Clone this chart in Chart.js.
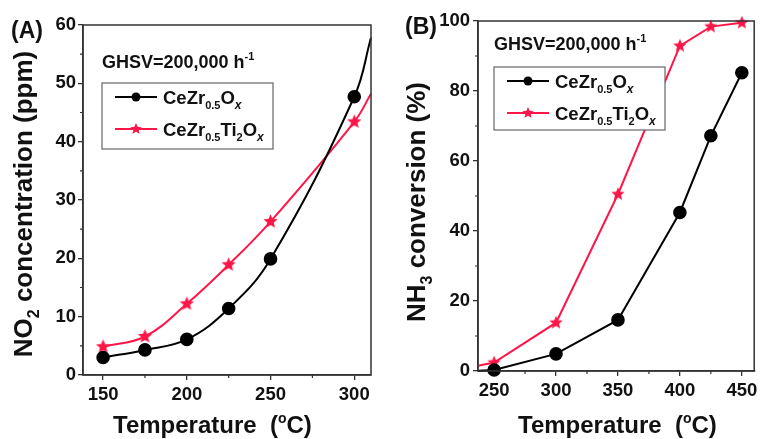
<!DOCTYPE html>
<html>
<head>
<meta charset="utf-8">
<script src="https://cdn.jsdelivr.net/npm/chart.js@4"></script>
<style>
  html, body { margin: 0; padding: 0; background: #fff; }
  #wrap { position: relative; width: 762px; height: 439px; }
  canvas { position: absolute; top: 0; }
</style>
</head>
<body>
<div id="wrap">
  <canvas id="chartA" width="381" height="439" style="left:0"></canvas>
  <canvas id="chartB" width="381" height="439" style="left:381px"></canvas>
</div>
<script>
// Panel A: NO2 concentration vs temperature (last point = where curve leaves the frame)
const tempA = [150, 175, 200, 225, 250, 300, 310];
const no2CeZr = [3.0, 4.3, 6.1, 11.4, 19.9, 47.7, 57.8];
const no2CeZrTi = [4.85, 6.6, 12.2, 18.9, 26.3, 43.4, 48.2];
const xTicksA = [150, 200, 250, 300];
const xMinorA = [175, 225, 275];
const yMinorA = [5, 15, 25, 35, 45, 55];

// Panel B: NH3 conversion vs temperature (first point = where line enters the frame)
const tempB = [237, 250, 300, 350, 400, 425, 450];
const nh3CeZr = [0.1, 0.3, 4.9, 14.6, 45.3, 67.2, 85.2];
const nh3CeZrTi = [1.5, 2.4, 13.8, 50.5, 92.9, 98.4, 99.5];
const xTicksB = [250, 300, 350, 400, 450];
const xMinorB = [275, 325, 375, 425];
const yMinorB = [10, 30, 50, 70, 90];

const RED = 'rgb(255, 22, 72)';
const FONT = '"Liberation Sans", Arial, sans-serif';
const AXIS = '#333';

function makeStar(r, color) {
    const s = Math.ceil(r * 2 + 2);
    const c = document.createElement('canvas');
    c.width = c.height = s;
    const g = c.getContext('2d');
    g.fillStyle = color;
    g.beginPath();
    for (let i = 0; i < 10; i++) {
        const rad = i % 2 ? r * 0.45 : r;
        const a = -Math.PI / 2 + i * Math.PI / 5;
        g.lineTo(s / 2 + rad * Math.cos(a), s / 2 + rad * Math.sin(a));
    }
    g.closePath();
    g.fill();
    return c;
}

// draw text made of parts: [text, kind] kind = '' | 'sub' | 'sup' | 'subi'
function drawRich(ctx, parts, x, y, size, align) {
    const spec = k => {
        if (k === 'sub') return { f: `bold ${Math.round(size * 0.6)}px ${FONT}`, dy: size * 0.28 };
        if (k === 'subi') return { f: `italic bold ${Math.round(size * 0.66)}px ${FONT}`, dy: size * 0.28 };
        if (k === 'sup') return { f: `bold ${Math.round(size * 0.6)}px ${FONT}`, dy: -size * 0.42 };
        return { f: `bold ${size}px ${FONT}`, dy: 0 };
    };
    let total = 0;
    parts.forEach(([t, k]) => { ctx.font = spec(k).f; total += ctx.measureText(t).width; });
    let cx = align === 'center' ? x - total / 2 : x;
    ctx.textAlign = 'left';
    ctx.textBaseline = 'alphabetic';
    parts.forEach(([t, k]) => {
        const sp = spec(k);
        ctx.font = sp.f;
        ctx.fillText(t, cx, y + sp.dy);
        cx += ctx.measureText(t).width;
    });
}

function drawLegend(ctx, box, rows) {
    ctx.fillStyle = '#fff';
    ctx.fillRect(box.x, box.y, box.w, box.h);
    ctx.strokeStyle = '#666';
    ctx.lineWidth = 1.2;
    ctx.strokeRect(box.x, box.y, box.w, box.h);
    rows.forEach(r => {
        ctx.strokeStyle = r.color;
        ctx.lineWidth = 2;
        ctx.beginPath();
        ctx.moveTo(box.x + 13, r.y);
        ctx.lineTo(box.x + 55, r.y);
        ctx.stroke();
        if (r.star) {
            ctx.drawImage(r.star, box.x + 34 - r.star.width / 2, r.y - r.star.height / 2);
        } else {
            ctx.fillStyle = r.color;
            ctx.beginPath();
            ctx.arc(box.x + 34, r.y, 4.5, 0, Math.PI * 2);
            ctx.fill();
        }
        ctx.fillStyle = '#111';
        drawRich(ctx, r.text, box.x + 61, r.y + 6.5, 18.5, 'left');
    });
}

function framePlugin(xMinor, yMinor, extras) {
    return {
        id: 'frame',
        afterDraw(chart) {
            const { ctx, chartArea: a, scales } = chart;
            ctx.save();
            ctx.strokeStyle = AXIS;
            ctx.lineWidth = 1.5;
            ctx.strokeRect(a.left, a.top, a.right - a.left, a.bottom - a.top);
            ctx.lineWidth = 1.2;
            ctx.beginPath();
            xMinor.forEach(v => {
                const px = scales.x.getPixelForValue(v);
                ctx.moveTo(px, a.bottom); ctx.lineTo(px, a.bottom + 3);
            });
            yMinor.forEach(v => {
                const py = scales.y.getPixelForValue(v);
                ctx.moveTo(a.left, py); ctx.lineTo(a.left - 3, py);
            });
            ctx.stroke();
            ctx.fillStyle = '#111';
            extras(ctx, a);
            ctx.restore();
        }
    };
}

function makeChart(id, cfg) {
    const starPlot = makeStar(cfg.starR, RED);
    const pts = (xs, ys) => xs.map((x, i) => ({ x, y: ys[i] }));
    const edgeRadius = r => c => (c.raw && (c.raw.x <= cfg.xMin || c.raw.x >= cfg.xMax)) ? 0 : r;
    const ds = (label, data, color, style) => ({
        label,
        data,
        borderColor: color,
        backgroundColor: color,
        borderWidth: 2,
        pointStyle: style,
        pointRadius: edgeRadius(5.8),
        pointHoverRadius: 0,
        tension: cfg.smooth ? 0.4 : 0,
        clip: false
    });
    const tickFont = { family: FONT, size: 18.5, weight: 'bold' };
    return new Chart(document.getElementById(id), {
        type: 'line',
        data: {
            datasets: [
                ds('CeZr0.5Ox', pts(cfg.xs, cfg.y1), '#000', 'circle'),
                ds('CeZr0.5Ti2Ox', pts(cfg.xs, cfg.y2), RED, starPlot)
            ]
        },
        options: {
            responsive: false,
            animation: false,
            events: [],
            layout: { padding: cfg.padding },
            plugins: { legend: { display: false }, tooltip: { enabled: false } },
            scales: {
                x: {
                    type: 'linear',
                    min: cfg.xMin,
                    max: cfg.xMax,
                    afterBuildTicks: s => { s.ticks = cfg.xTicks.map(v => ({ value: v })); },
                    afterFit: s => { s.height = cfg.xHeight; },
                    grid: { drawOnChartArea: false, tickLength: 5, color: AXIS, lineWidth: 1.3 },
                    border: { display: true, color: AXIS, width: 1.5 },
                    ticks: { font: tickFont, color: '#111', padding: 4, maxRotation: 0 }
                },
                y: {
                    min: cfg.yMin,
                    max: cfg.yMax,
                    afterFit: s => { s.width = cfg.yWidth; },
                    grid: { drawOnChartArea: false, tickLength: 5, color: AXIS, lineWidth: 1.3 },
                    border: { display: true, color: AXIS, width: 1.5 },
                    ticks: { stepSize: cfg.yStep, font: tickFont, color: '#111', padding: cfg.yPad }
                }
            }
        },
        plugins: [framePlugin(cfg.xMinor, cfg.yMinor, cfg.extras)]
    });
}

const legendText1 = [['CeZr', ''], ['0.5', 'sub'], ['O', ''], ['x', 'subi']];
const legendText2 = [['CeZr', ''], ['0.5', 'sub'], ['Ti', ''], ['2', 'sub'], ['O', ''], ['x', 'subi']];
const xTitle = [['Temperature  (', ''], ['o', 'sup'], ['C)', '']];

makeChart('chartA', {
    xs: tempA, y1: no2CeZr, y2: no2CeZrTi,
    xMin: 138, xMax: 310, yMin: 0, yMax: 60, yStep: 10,
    xTicks: xTicksA, xMinor: xMinorA, yMinor: yMinorA,
    padding: { left: 0, right: 10, top: 25, bottom: 0 },
    yWidth: 83, xHeight: 64, yPad: 2, starR: 7.5, smooth: true,
    extras: (ctx, a) => {
        ctx.font = `bold 23px ${FONT}`;
        ctx.textAlign = 'left';
        ctx.fillText('(A)', 11, 38);
        drawRich(ctx, [['GHSV=200,000 h', ''], ['-1', 'sup']], 102, 68, 18, 'left');
        drawLegend(ctx, { x: 102, y: 83, w: 171, h: 66 }, [
            { y: 97, color: '#000', text: legendText1 },
            { y: 129, color: RED, star: makeStar(6, RED), text: legendText2 }
        ]);
        drawRich(ctx, xTitle, 113, 433, 24, 'left');
        ctx.save();
        ctx.translate(32, (a.top + a.bottom) / 2 + 4);
        ctx.rotate(-Math.PI / 2);
        drawRich(ctx, [['NO', ''], ['2', 'sub'], [' concentration (ppm)', '']], 0, 0, 26, 'center');
        ctx.restore();
    }
});

makeChart('chartB', {
    xs: tempB, y1: nh3CeZr, y2: nh3CeZrTi,
    xMin: 237, xMax: 460, yMin: 0, yMax: 100, yStep: 20,
    xTicks: xTicksB, xMinor: xMinorB, yMinor: yMinorB,
    padding: { left: 0, right: 2, top: 21, bottom: 0 },
    yWidth: 97, xHeight: 68, yPad: 3, starR: 7, smooth: false,
    extras: (ctx, a) => {
        ctx.font = `bold 23px ${FONT}`;
        ctx.textAlign = 'left';
        ctx.fillText('(B)', 24, 34);
        drawRich(ctx, [['GHSV=200,000 h', ''], ['-1', 'sup']], 113, 50, 18, 'left');
        drawLegend(ctx, { x: 113, y: 67, w: 171, h: 63 }, [
            { y: 81, color: '#000', text: legendText1 },
            { y: 113, color: RED, star: makeStar(6, RED), text: legendText2 }
        ]);
        drawRich(ctx, xTitle, 137, 433, 24, 'left');
        ctx.save();
        ctx.translate(44, (a.top + a.bottom) / 2 + 6);
        ctx.rotate(-Math.PI / 2);
        drawRich(ctx, [['NH', ''], ['3', 'sub'], [' conversion (%)', '']], 0, 0, 26, 'center');
        ctx.restore();
    }
});
</script>
</body>
</html>
